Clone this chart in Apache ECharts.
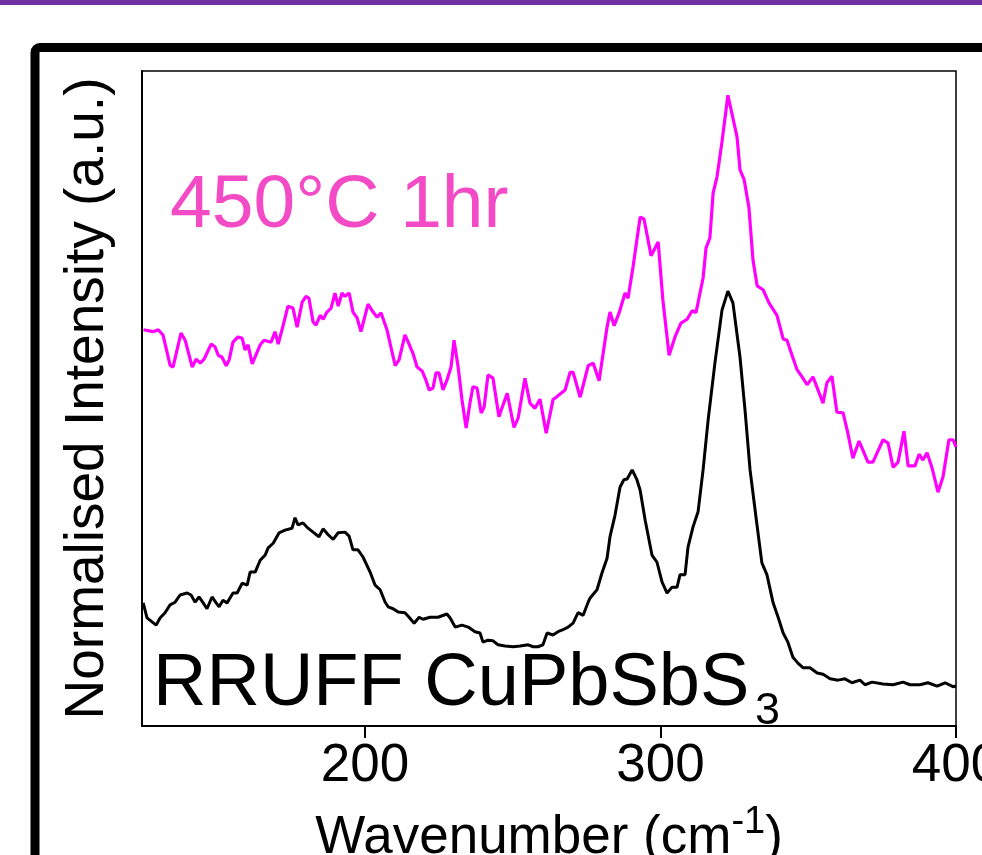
<!DOCTYPE html>
<html style="height: 100%">
<head>
	<meta charset="utf-8">
</head>
<body style="height: 100%; margin: 0; background: #fff">
<div id="container" style="width: 982px; height: 855px"></div>
<script type="text/javascript" src="https://cdn.jsdelivr.net/npm/echarts@6/dist/echarts.min.js"></script>
<script type="text/javascript">
    // 450 C 1 hr sample (magenta), offset upwards
    var annealX = [125.0, 128.3, 130.0, 131.6, 134.0, 135.0, 137.7, 139.1, 141.5, 142.8, 144.2, 145.5, 147.9, 149.2, 150.3, 151.6,
        153.0, 154.0, 155.3, 157.0, 158.4, 159.4, 160.4, 161.8, 164.5, 165.8, 168.2, 169.5, 170.6, 172.3, 173.9, 175.6,
        177.0, 178.7, 180.0, 181.0, 182.4, 183.4, 184.8, 185.8, 187.1, 188.5, 189.8, 190.9, 192.2, 193.2, 194.6, 195.9,
        197.3, 198.6, 201.0, 202.7, 204.1, 205.4, 207.4, 210.2, 211.5, 213.5, 214.6, 216.2, 217.6, 219.3, 220.6, 221.7,
        223.0, 224.0, 225.0, 226.4, 227.7, 229.1, 230.1, 231.5, 232.8, 234.2, 235.5, 236.5, 237.9, 239.3, 240.3, 241.6,
        243.3, 245.3, 248.1, 250.4, 251.8, 254.1, 255.8, 257.5, 259.2, 261.3, 263.6, 267.7, 269.4, 270.4, 272.8, 275.5,
        277.2, 279.2, 281.9, 282.9, 284.3, 286.0, 288.0, 289.0, 290.7, 293.1, 294.4, 296.8, 299.2, 300.8, 302.9, 304.9,
        306.9, 309.0, 310.7, 312.0, 314.4, 315.4, 316.7, 317.8, 319.1, 320.8, 322.8, 324.5, 325.9, 326.9, 328.3, 329.9,
        331.3, 332.7, 334.7, 336.7, 339.4, 341.5, 342.8, 344.5, 346.2, 347.9, 349.6, 351.6, 355.0, 356.3, 358.0, 359.7,
        361.8, 363.4, 365.1, 367.2, 370.2, 371.9, 373.3, 375.3, 377.0, 378.7, 380.4, 382.4, 383.8, 386.1, 387.5, 388.8,
        390.2, 391.9, 393.9, 395.6, 397.6, 399.0, 400.0];
    var annealY = [60.5, 60.2, 60.5, 59.7, 55.1, 54.8, 60.0, 58.9, 54.8, 56.0, 55.4, 56.0, 58.3, 57.9, 56.6, 56.3,
        55.0, 55.9, 58.6, 59.4, 59.2, 57.4, 58.2, 55.3, 58.2, 58.9, 58.6, 60.2, 58.3, 61.2, 64.1, 63.8,
        60.9, 64.7, 65.6, 65.3, 61.7, 61.2, 62.7, 62.1, 63.2, 63.8, 66.1, 64.1, 66.1, 65.6, 66.1, 63.2,
        62.3, 60.2, 64.4, 63.2, 62.4, 63.1, 60.5, 55.0, 55.9, 59.7, 58.6, 56.9, 54.8, 54.2, 52.8, 51.3,
        51.6, 53.9, 53.9, 51.3, 52.8, 54.8, 58.9, 54.8, 49.8, 45.5, 49.3, 51.8, 51.6, 47.8, 48.7, 53.6,
        53.1, 47.2, 50.8, 45.6, 47.0, 53.1, 49.3, 48.5, 49.9, 44.7, 49.8, 51.3, 54.0, 54.0, 50.2, 55.0,
        55.4, 52.7, 60.9, 63.2, 61.1, 63.1, 66.1, 65.3, 70.1, 77.7, 77.4, 71.8, 73.9, 65.0, 56.6, 59.4,
        61.5, 62.1, 63.4, 63.1, 68.4, 73.0, 74.5, 81.4, 83.8, 89.2, 96.3, 92.8, 89.9, 84.9, 83.4, 79.2,
        71.1, 67.2, 66.6, 64.6, 62.7, 59.1, 58.9, 56.6, 54.4, 53.3, 52.1, 53.3, 49.3, 52.4, 53.4, 47.9,
        47.8, 44.7, 40.9, 43.5, 40.3, 40.3, 41.7, 43.7, 43.2, 39.5, 40.3, 45.0, 39.7, 39.7, 41.5, 40.6,
        41.7, 39.4, 35.7, 38.0, 43.7, 43.7, 42.6];

    // RRUFF CuPbSbS3 reference (black)
    var rruffX = [124.9, 126.2, 127.9, 129.3, 130.6, 132.3, 134.0, 135.7, 137.4, 139.8, 141.1, 142.5, 143.8, 145.2, 146.5, 148.2,
        149.6, 150.6, 151.9, 153.3, 155.3, 156.7, 158.4, 160.1, 161.1, 162.8, 164.5, 166.2, 167.2, 168.9, 170.9, 172.9,
        175.3, 176.3, 177.3, 179.0, 180.7, 182.4, 184.4, 185.8, 187.5, 189.2, 190.9, 193.2, 194.6, 195.9, 197.6, 199.3,
        201.7, 203.4, 205.1, 206.8, 207.8, 209.5, 211.2, 213.5, 214.9, 216.6, 218.3, 219.6, 222.0, 224.7, 227.7, 228.8,
        230.5, 232.8, 234.9, 237.2, 238.9, 239.9, 241.6, 243.3, 245.0, 247.4, 250.1, 252.5, 255.2, 256.9, 258.5, 260.2,
        261.6, 263.6, 265.3, 267.0, 268.7, 270.4, 272.1, 273.8, 275.5, 276.1, 278.5, 280.2, 281.9, 282.9, 284.6, 286.3,
        287.6, 288.7, 290.4, 292.0, 293.1, 294.8, 297.1, 298.8, 300.5, 302.2, 303.9, 305.6, 306.6, 308.3, 309.3, 311.0,
        312.7, 314.4, 316.1, 318.4, 320.8, 322.8, 324.5, 326.9, 328.6, 330.3, 332.3, 334.3, 336.0, 338.1, 339.8, 341.5,
        343.1, 344.8, 346.5, 348.2, 350.6, 353.0, 355.0, 357.4, 360.1, 362.4, 364.8, 367.5, 369.2, 371.6, 375.3, 378.7,
        382.1, 384.4, 387.8, 390.5, 393.6, 396.3, 399.0, 400.0];
    var rruffY = [18.8, 16.5, 15.9, 15.4, 16.5, 17.3, 18.5, 18.9, 20.0, 20.3, 20.0, 18.9, 19.7, 18.8, 17.9, 19.7,
        18.8, 18.2, 19.2, 18.8, 20.3, 20.3, 21.8, 21.5, 23.5, 23.5, 25.3, 26.1, 27.2, 27.9, 29.5, 29.9,
        30.2, 31.8, 30.7, 31.0, 30.2, 29.6, 28.9, 30.1, 29.2, 28.5, 29.5, 29.6, 29.0, 26.9, 26.9, 25.8,
        23.5, 21.5, 20.8, 18.9, 18.2, 17.9, 17.4, 17.3, 16.6, 15.7, 16.6, 16.3, 16.6, 16.6, 17.1, 16.5,
        15.1, 15.4, 15.1, 14.4, 14.2, 12.8, 13.1, 13.0, 12.4, 12.2, 12.1, 12.2, 12.4, 12.1, 12.1, 12.4,
        14.2, 13.9, 14.4, 14.7, 15.1, 15.7, 17.3, 16.9, 18.9, 19.5, 20.8, 23.4, 25.6, 28.9, 32.2, 36.5,
        37.6, 37.7, 39.1, 37.6, 36.0, 31.4, 26.1, 25.0, 22.0, 20.3, 21.2, 21.2, 23.1, 23.1, 27.3, 30.4,
        32.7, 39.1, 46.7, 55.4, 63.5, 66.4, 64.6, 56.3, 48.2, 39.1, 31.9, 24.9, 23.1, 18.8, 16.6, 14.2,
        12.8, 10.5, 9.6, 8.9, 8.9, 8.1, 7.9, 7.2, 7.0, 7.2, 6.6, 7.0, 6.3, 6.7, 6.4, 6.3,
        6.7, 6.3, 6.3, 6.6, 6.1, 6.6, 6.0, 6.1];

    var xTicks = [200, 300, 400];

    function pairs(xs, ys) {
        var out = [];
        for (var i = 0; i < xs.length; i++) {
            out.push([xs[i], ys[i]]);
        }
        return out;
    }

    var font = '"Liberation Sans", Arial, sans-serif';
    var dom = document.getElementById("container");
    var myChart = echarts.init(dom, null, {renderer: 'canvas'});

    var option = {
        backgroundColor: '#ffffff',
        animation: false,
        grid: {
            left: 142,
            right: 26,
            top: 71,
            bottom: 129,
            show: true,
            borderColor: '#000',
            borderWidth: 1.5,
            outerBoundsMode: 'none'
        },
        graphic: [
            {
                type: 'rect',
                shape: {x: 0, y: 0, width: 982, height: 5},
                style: {fill: '#7030A0'}
            },
            {
                type: 'rect',
                shape: {x: 35, y: 47.5, width: 1100, height: 1100, r: 5},
                style: {fill: 'none', stroke: '#000', lineWidth: 9}
            },
            {
                type: 'text',
                x: 170,
                y: 169,
                style: {
                    text: '450°C 1hr',
                    fontFamily: font,
                    fontSize: 75,
                    fill: '#F34BC6'
                }
            },
            {
                type: 'text',
                x: 153,
                y: 648,
                style: {
                    text: 'RRUFF CuPbSbS',
                    fontFamily: font,
                    fontSize: 74,
                    fill: '#000'
                }
            },
            {
                // subscript 3
                type: 'text',
                x: 755,
                y: 689,
                style: {
                    text: '3',
                    fontFamily: font,
                    fontSize: 45,
                    fill: '#000'
                }
            }
        ],
        xAxis: {
            type: 'value',
            min: 124.5,
            max: 400,
            name: 'Wavenumber (cm{sup|-1})',
            nameLocation: 'middle',
            nameGap: 78,
            nameTextStyle: {
                fontFamily: font,
                fontSize: 53,
                lineHeight: 69,
                color: '#000',
                rich: {
                    sup: {fontFamily: font, fontSize: 38, verticalAlign: 'top', color: '#000'}
                }
            },
            axisLine: {show: true, lineStyle: {color: '#000', width: 2}},
            axisTick: {show: true, customValues: xTicks, length: 12, lineStyle: {color: '#000', width: 2}},
            axisLabel: {
                customValues: xTicks,
                margin: 14,
                fontFamily: font,
                fontSize: 53,
                color: '#000'
            },
            splitLine: {show: false}
        },
        yAxis: {
            type: 'value',
            min: 0,
            max: 100,
            name: 'Normalised Intensity (a.u.)',
            nameLocation: 'middle',
            nameGap: 27,
            nameTextStyle: {fontFamily: font, fontSize: 55, color: '#000'},
            axisLine: {show: true, lineStyle: {color: '#000', width: 2}},
            axisTick: {show: false},
            axisLabel: {show: false},
            splitLine: {show: false}
        },
        series: [
            {
                name: '450C 1hr',
                type: 'line',
                data: pairs(annealX, annealY),
                showSymbol: false,
                lineStyle: {color: '#FF00FF', width: 3.2},
                z: 3
            },
            {
                name: 'RRUFF',
                type: 'line',
                data: pairs(rruffX, rruffY),
                showSymbol: false,
                lineStyle: {color: '#000', width: 3},
                z: 2
            }
        ]
    };

    myChart.setOption(option, true);
</script>
</body>
</html>
